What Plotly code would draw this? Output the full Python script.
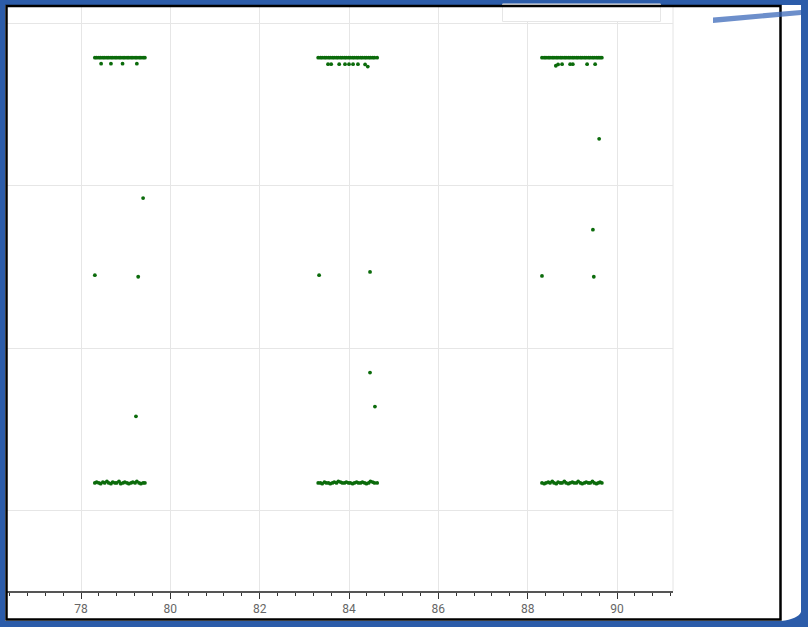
import plotly.graph_objects as go

# ---------------- data ----------------
x_ticks = [78, 80, 82, 84, 86, 88, 90]
x_tick_labels = ["78", "80", "82", "84", "86", "88", "90"]

# dense upper rows (one per cluster)
top_row_y = 2.79
top_x_c1 = [78.31, 78.35, 78.40, 78.44, 78.49, 78.53, 78.58, 78.62, 78.67, 78.71, 78.76, 78.80, 78.85,
            78.89, 78.94, 78.98, 79.03, 79.07, 79.12, 79.16, 79.21, 79.25, 79.30, 79.34, 79.39, 79.43]
top_x_c2 = [83.31, 83.36, 83.40, 83.45, 83.49, 83.54, 83.58, 83.63, 83.67, 83.72, 83.76, 83.81, 83.85,
            83.90, 83.94, 83.99, 84.03, 84.08, 84.12, 84.17, 84.21, 84.26, 84.30, 84.35, 84.39, 84.44,
            84.48, 84.53, 84.57, 84.63]
top_x_c3 = [88.32, 88.37, 88.41, 88.46, 88.50, 88.55, 88.59, 88.64, 88.68, 88.73, 88.77, 88.82, 88.86,
            88.91, 88.95, 89.00, 89.04, 89.09, 89.13, 89.18, 89.22, 89.27, 89.31, 89.36, 89.40, 89.45,
            89.49, 89.54, 89.58, 89.62, 89.66]

# dense lower rows
bot_y_c1 = [0.170, 0.175, 0.170, 0.165, 0.175, 0.170, 0.180, 0.170, 0.165, 0.175, 0.170, 0.170, 0.180,
            0.165, 0.170, 0.175, 0.170, 0.165, 0.170, 0.175, 0.170, 0.180, 0.170, 0.165, 0.170, 0.170]
bot_y_c2 = [0.170, 0.170, 0.165, 0.175, 0.170, 0.170, 0.165, 0.170, 0.175, 0.170, 0.180, 0.175, 0.170,
            0.170, 0.175, 0.170, 0.170, 0.165, 0.170, 0.175, 0.170, 0.170, 0.175, 0.170, 0.165, 0.170,
            0.180, 0.175, 0.170, 0.170]
bot_y_c3 = [0.170, 0.165, 0.170, 0.175, 0.170, 0.180, 0.170, 0.165, 0.175, 0.170, 0.170, 0.180, 0.170,
            0.165, 0.170, 0.175, 0.170, 0.170, 0.180, 0.170, 0.165, 0.170, 0.175, 0.170, 0.170, 0.180,
            0.170, 0.165, 0.170, 0.175, 0.170]

# sparse row just below the upper rows
second_x = [78.45, 78.67, 78.93, 79.25,
            83.53, 83.60, 83.78, 83.91, 84.00, 84.09, 84.20, 84.36, 84.42,
            88.63, 88.68, 88.77, 88.95, 89.01, 89.33, 89.51]
second_y = [2.753, 2.753, 2.753, 2.753,
            2.750, 2.750, 2.750, 2.750, 2.750, 2.750, 2.750, 2.748, 2.735,
            2.740, 2.748, 2.750, 2.750, 2.750, 2.750, 2.750]

# isolated points
iso_x = [79.39, 78.31, 79.28, 79.23, 83.33, 84.47, 84.47, 84.58, 89.60, 89.46, 88.32, 89.48]
iso_y = [1.925, 1.450, 1.440, 0.580, 1.450, 1.470, 0.850, 0.640, 2.290, 1.730, 1.445, 1.440]

# ---------------- figure ----------------
W, H = 808, 627
ML, MR, MT, MB = 7, 135, 7, 36
PW, PH = W - ML - MR, H - MT - MB


def px(xp):
    return (xp - ML) / PW


def py(yp):
    return (H - MB - yp) / PH


GREEN = "#0b6b0b"
all_x = (top_x_c1 + top_x_c2 + top_x_c3 + top_x_c1 + top_x_c2 + top_x_c3 + second_x + iso_x)
all_y = ([top_row_y] * (len(top_x_c1) + len(top_x_c2) + len(top_x_c3))
         + bot_y_c1 + bot_y_c2 + bot_y_c3 + second_y + iso_y)

fig = go.Figure()
fig.add_trace(go.Scatter(x=all_x, y=all_y, mode="markers",
                         marker=dict(color=GREEN, size=3.8, line=dict(width=0)),
                         showlegend=False, hoverinfo="x+y"))

BLUE = "#2c5ca9"
shapes = [
    # white page inside blue border
    dict(type="rect", xref="paper", yref="paper", x0=px(5), x1=px(801), y0=py(621), y1=py(5),
         fillcolor="white", line=dict(width=0), layer="below"),
    # right edge of plot area
    dict(type="line", xref="paper", yref="paper", x0=1, x1=1, y0=0, y1=1,
         line=dict(color="#e4e4e4", width=1), layer="below"),
    # cut-off legend box
    dict(type="rect", xref="paper", yref="paper", x0=px(502.5), x1=px(660.5), y0=py(21.5), y1=py(4),
         fillcolor="white", line=dict(color="#e6e6e6", width=1), layer="above"),
    # black frame
    dict(type="rect", xref="paper", yref="paper", x0=px(6.5), x1=px(780.5), y0=py(619.5), y1=py(6),
         fillcolor="rgba(0,0,0,0)", line=dict(color="black", width=2.5), layer="above"),
    # blue streak at top right
    dict(type="path", xref="paper", yref="paper",
         path=(f"M {px(713)},{py(17.5)} L {px(801)},{py(10)} L {px(801)},{py(15)} "
               f"L {px(713)},{py(23)} Z"),
         fillcolor="rgba(60,105,185,0.75)", line=dict(width=0), layer="above"),
    # bottom-right curl
    dict(type="path", xref="paper", yref="paper",
         path=(f"M {px(781)},{py(621)} Q {px(798)},{py(619)} {px(801)},{py(612)} "
               f"L {px(801)},{py(621)} Z"),
         fillcolor=BLUE, line=dict(width=0), layer="above"),
]

fig.update_layout(
    width=W, height=H,
    margin=dict(l=ML, r=MR, t=MT, b=MB, pad=0),
    paper_bgcolor=BLUE,
    plot_bgcolor="white",
    showlegend=False,
    shapes=shapes,
    xaxis=dict(range=[76.343, 91.253], tickvals=x_ticks, ticktext=x_tick_labels,
               showgrid=True, gridcolor="#e6e6e6", gridwidth=1, zeroline=False,
               showline=True, linecolor="#555555", linewidth=1.5,
               ticks="outside", ticklen=6, tickwidth=1.2, tickcolor="#333333",
               minor=dict(dtick=0.4, tick0=0, ticks="outside", ticklen=3.5, tickwidth=1,
                          tickcolor="#333333", showgrid=False),
               tickfont=dict(family="Liberation Sans Narrow, Roboto, Liberation Sans", size=12,
                             color="#666666"),
               fixedrange=True),
    yaxis=dict(range=[-0.496, 3.102], tickvals=[0, 1, 2, 3], showticklabels=False,
               showgrid=True, gridcolor="#e6e6e6", gridwidth=1, zeroline=False,
               showline=False, ticks="", fixedrange=True),
)

fig.write_html("out.html", config={"displayModeBar": False},
               post_script="document.body.style.margin='0px';document.body.style.overflow='hidden';")
